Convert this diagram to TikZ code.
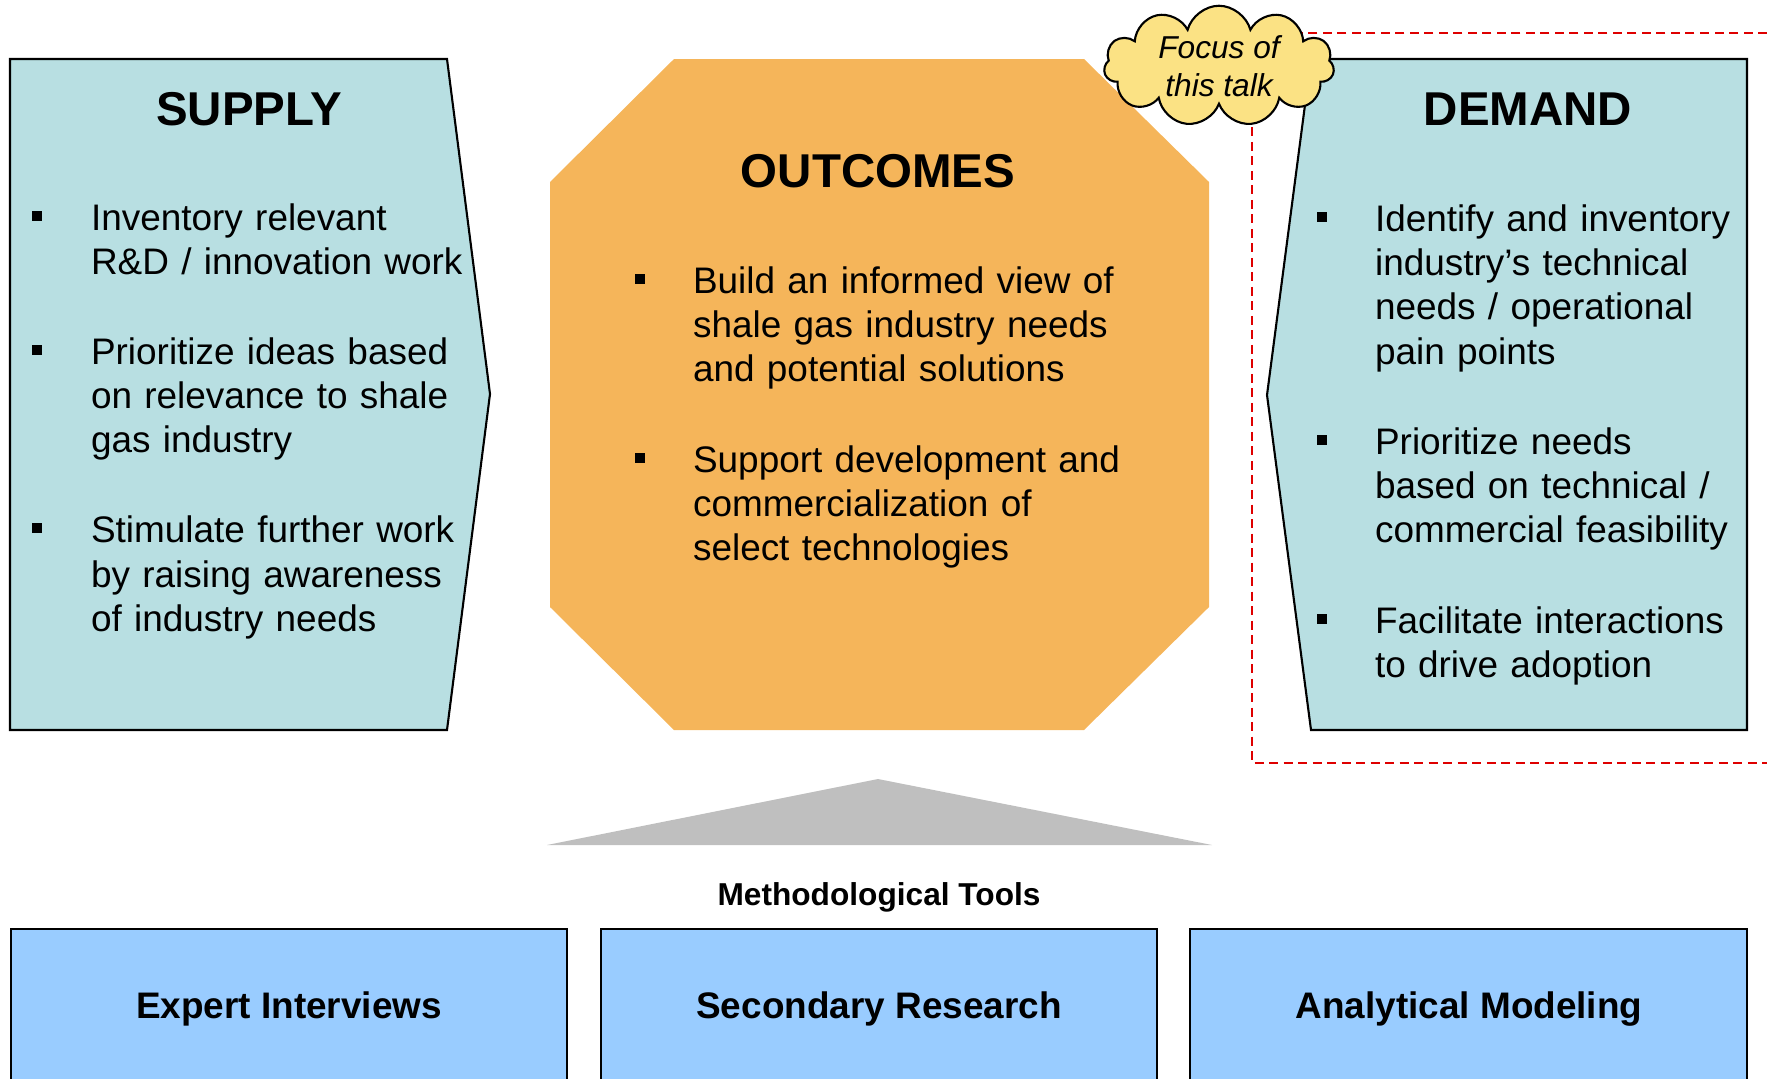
\documentclass[tikz,border=0pt]{standalone}
\usepackage{fontspec}
\setmainfont{Liberation Sans}
\usetikzlibrary{shapes.symbols}
\definecolor{panelteal}{RGB}{184,223,226}
\definecolor{outcomeorange}{RGB}{245,181,90}
\definecolor{cloudyellow}{RGB}{251,226,132}
\definecolor{toolblue}{RGB}{153,204,255}
\definecolor{focusred}{RGB}{222,0,0}

\begin{document}
\begin{tikzpicture}[x=0.01cm,y=-0.01cm,line width=0.6pt,
  bul/.style={fill=black,inner sep=0pt,minimum size=0.1cm},
  bulltext/.style={anchor=base west,align=left,text width=5.5cm,inner sep=0pt,font=\fontsize{10.5}{12.64}\selectfont},
  paneltitle/.style={anchor=base,inner sep=0pt,font=\fontsize{13.5}{16}\selectfont\bfseries},
  toollabel/.style={anchor=base,inner sep=0pt,font=\fontsize{10.5}{12.64}\selectfont\bfseries}]
  \useasboundingbox (0,0) rectangle (1767,1078);
  \clip (0,0) rectangle (1767,1078);
  % recuadro rojo punteado alrededor de la demanda
  \draw[focusred,dash pattern=on 0.09cm off 0.055cm] (1767,33)--(1252,33)--(1252,763)--(1767,763);
  % columna izquierda: oferta
  \draw[fill=panelteal] (10,59)--(447,59)--(490,394)--(447,730)--(10,730)--cycle;
  \node[paneltitle] (supply) at (249,125) {SUPPLY};
  \node[bul] (s1b) at (37,216) {};
  \node[bulltext] (s1) at (90,230.5) {Inventory relevant\\R\&D / innovation work};
  \node[bul] (s2b) at (37,350) {};
  \node[bulltext] (s2) at (90,364) {Prioritize ideas based\\on relevance to shale\\gas industry};
  \node[bul] (s3b) at (37,528) {};
  \node[bulltext] (s3) at (90,542.6) {Stimulate further work\\by raising awareness\\of industry needs};
  % octogono central: resultados
  \fill[outcomeorange] (674,59)--(1084,59)--(1209,182)--(1209,607)--(1084,730)--(674,730)--(550,607)--(550,182)--cycle;
  \node[paneltitle] (outcomes) at (878,187) {OUTCOMES};
  \node[bul] (o1b) at (640,279) {};
  \node[bulltext] (o1) at (692,293) {Build an informed view of\\shale gas industry needs\\and potential solutions};
  \node[bul] (o2b) at (640,458) {};
  \node[bulltext] (o2) at (692,472) {Support development and\\commercialization of\\select technologies};
  % columna derecha: demanda
  \draw[fill=panelteal] (1311,59)--(1747,59)--(1747,730)--(1311,730)--(1267,395)--cycle;
  \node[paneltitle] (demand) at (1528,125) {DEMAND};
  \node[bul] (d1b) at (1322,217) {};
  \node[bulltext] (d1) at (1374,231) {Identify and inventory\\industry’s technical\\needs / operational\\pain points};
  \node[bul] (d2b) at (1322,440) {};
  \node[bulltext] (d2) at (1374,454) {Prioritize needs\\based on technical /\\commercial feasibility};
  \node[bul] (d3b) at (1322,619) {};
  \node[bulltext] (d3) at (1374,633) {Facilitate interactions\\to drive adoption};
  % nube
  \node[cloud,cloud puffs=11,aspect=2,draw,fill=cloudyellow,minimum width=2.3cm,minimum height=1.1cm,inner sep=0pt,align=center,font=\fontsize{9}{10.8}\selectfont\itshape] (focus) at (1219,66) {Focus of\\this talk};
  % triangulo y herramientas
  \fill[black!25] (878,779)--(1212,845)--(547,845)--cycle;
  \node[anchor=base,inner sep=0pt,font=\fontsize{9}{11}\selectfont\bfseries] (tools) at (879,905) {Methodological Tools};
  \draw[fill=toolblue] (11,929) rectangle (567,1100);
  \draw[fill=toolblue] (601,929) rectangle (1157,1100);
  \draw[fill=toolblue] (1190,929) rectangle (1747,1100);
  \node[toollabel] (expert) at (289,1018) {Expert Interviews};
  \node[toollabel] (secondary) at (879,1018) {Secondary Research};
  \node[toollabel] (analytical) at (1469,1018) {Analytical Modeling};
\end{tikzpicture}
\end{document}
